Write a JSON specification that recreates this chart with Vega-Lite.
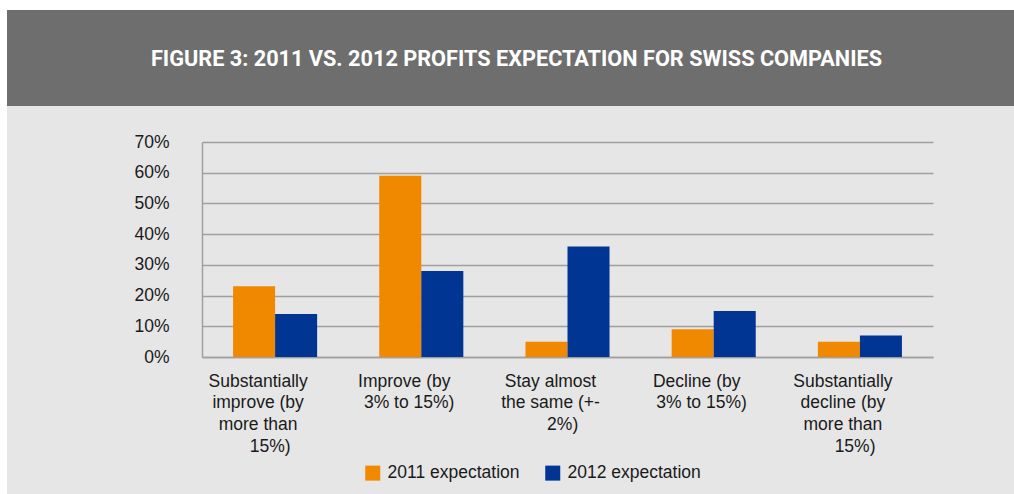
{
  "$schema": "https://vega.github.io/schema/vega-lite/v6.json",
  "background": "#ffffff",
  "padding": {"left": 7, "top": 10, "right": 0, "bottom": 0},
  "spacing": 0,
  "config": {"font": "Liberation Sans", "view": {"stroke": null}},
  "resolve": {"legend": {"color": "independent"}},
  "vconcat": [
    {
      "width": 1007,
      "height": 96,
      "view": {"fill": "#6e6e6e", "stroke": null},
      "data": {"values": [{"title": "FIGURE 3: 2011 VS. 2012 PROFITS EXPECTATION FOR SWISS COMPANIES"}]},
      "mark": {"type": "text", "font": "Roboto", "fontSize": 21.7, "fontWeight": "bold", "color": "#ffffff", "align": "center", "baseline": "middle", "dx": 6, "dy": 1},
      "encoding": {"text": {"field": "title", "type": "nominal"}}
    },
    {
      "width": 1007,
      "height": 388,
      "view": {"fill": "#e6e6e6", "stroke": null},
      "data": {
        "values": [
          {"category": "Substantially improve (by more than 15%)", "series": "2011 expectation", "value": 0.23},
          {"category": "Substantially improve (by more than 15%)", "series": "2012 expectation", "value": 0.14},
          {"category": "Improve (by 3% to 15%)", "series": "2011 expectation", "value": 0.59},
          {"category": "Improve (by 3% to 15%)", "series": "2012 expectation", "value": 0.28},
          {"category": "Stay almost the same (+-2%)", "series": "2011 expectation", "value": 0.05},
          {"category": "Stay almost the same (+-2%)", "series": "2012 expectation", "value": 0.36},
          {"category": "Decline (by 3% to 15%)", "series": "2011 expectation", "value": 0.09},
          {"category": "Decline (by 3% to 15%)", "series": "2012 expectation", "value": 0.15},
          {"category": "Substantially decline (by more than 15%)", "series": "2011 expectation", "value": 0.05},
          {"category": "Substantially decline (by more than 15%)", "series": "2012 expectation", "value": 0.07}
        ]
      },
      "mark": {"type": "bar"},
      "encoding": {
        "x": {
          "field": "category",
          "type": "nominal",
          "sort": null,
          "scale": {"range": [195, 926], "paddingInner": 0.425, "paddingOuter": 0.2125},
          "axis": {
            "title": null,
            "offset": -137,
            "domainColor": "#a0a0a0",
            "domainWidth": 1.5,
            "ticks": false,
            "tickSize": 0,
            "grid": false,
            "labelAngle": 0,
            "labelFontSize": 17.5,
            "labelColor": "#1a1a1a",
            "labelPadding": 15,
            "labelLineHeight": 21.7,
            "labelBaseline": "top",
            "labelAlign": "center",
            "labelOffset": -17,
            "labelOverlap": false,
            "labelLimit": 0,
            "labelExpr": "datum.value == 'Substantially improve (by more than 15%)' ? ['Substantially', 'improve (by', 'more than', '\u200b\u00a0\u00a0\u00a0\u00a0\u00a015%)'] : datum.value == 'Improve (by 3% to 15%)' ? ['Improve (by', '\u200b\u00a0\u00a03% to 15%)'] : datum.value == 'Stay almost the same (+-2%)' ? ['Stay almost', 'the same (+-', '\u200b\u00a0\u00a0\u00a0\u00a0\u00a02%)'] : datum.value == 'Decline (by 3% to 15%)' ? ['Decline (by', '\u200b\u00a0\u00a03% to 15%)'] : ['Substantially', 'decline (by', 'more than', '\u200b\u00a0\u00a0\u00a0\u00a0\u00a015%)']"
          }
        },
        "xOffset": {"field": "series", "type": "nominal", "sort": null, "scale": {"paddingInner": 0, "paddingOuter": 0}},
        "y": {
          "field": "value",
          "type": "quantitative",
          "scale": {"domain": [0, 0.7], "nice": false, "range": [251, 36]},
          "axis": {
            "title": null,
            "offset": -195,
            "values": [0, 0.1, 0.2, 0.3, 0.4, 0.5, 0.6, 0.7],
            "format": ".0%",
            "grid": true,
            "gridColor": "#a0a0a0",
            "gridWidth": 1.5,
            "domainColor": "#a0a0a0",
            "domainWidth": 1.5,
            "ticks": false,
            "tickSize": 0,
            "labelFontSize": 17.5,
            "labelColor": "#1a1a1a",
            "labelPadding": 33
          }
        },
        "color": {
          "field": "series",
          "type": "nominal",
          "scale": {"domain": ["2011 expectation", "2012 expectation"], "range": ["#f08900", "#003594"]},
          "legend": {
            "orient": "none",
            "legendX": 357,
            "legendY": 358,
            "direction": "horizontal",
            "title": null,
            "symbolType": "square",
            "symbolSize": 225,
            "symbolStrokeWidth": 0,
            "symbolOpacity": 1,
            "labelFontSize": 17.5,
            "labelColor": "#1a1a1a",
            "labelOffset": 6,
            "columnPadding": 24,
            "padding": 0
          }
        }
      }
    }
  ]
}
